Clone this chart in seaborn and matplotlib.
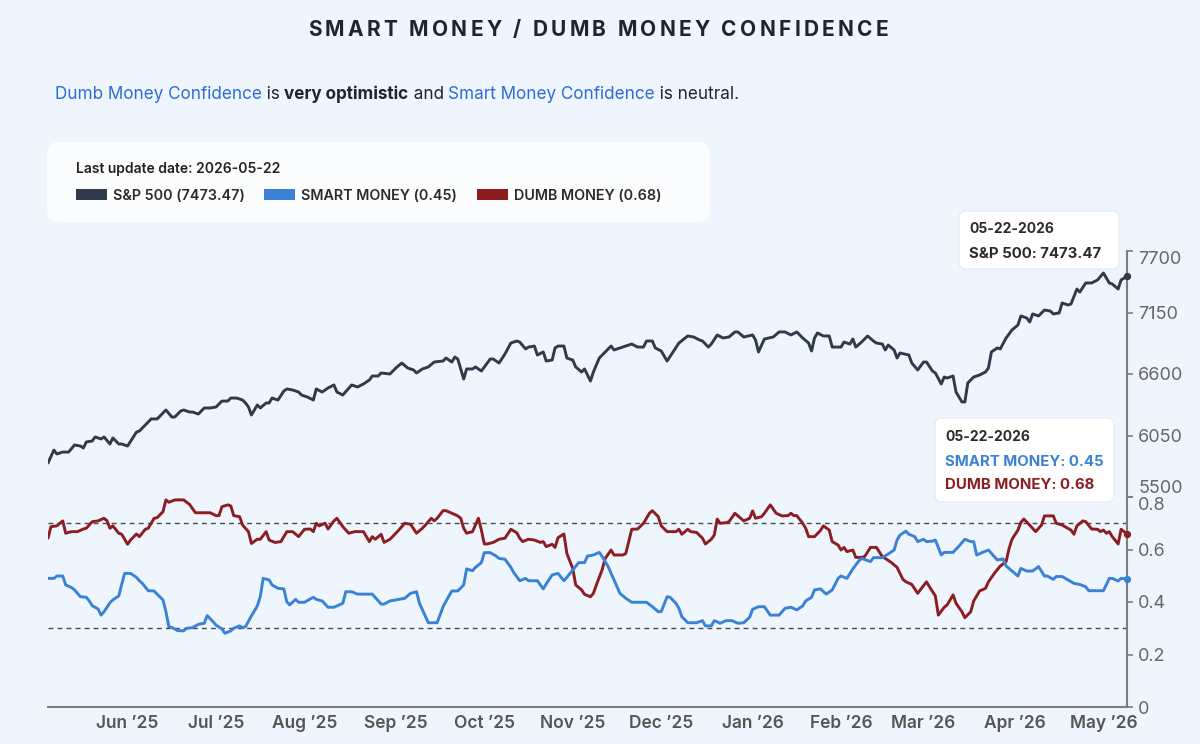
import matplotlib
matplotlib.use("Agg")
import matplotlib.pyplot as plt
from matplotlib.patches import FancyBboxPatch, Rectangle
from matplotlib.transforms import IdentityTransform
import pandas as pd
import seaborn as sns

# ---- data ----
START = pd.Timestamp("2025-05-21")
END_DAY = 366

spx_day = [0, 2, 3, 5, 7, 9, 11, 12, 13, 15, 16, 18, 19, 21, 22, 24, 25, 27, 30, 31,
           33, 35, 37, 38, 40, 42, 43, 45, 46, 48, 49, 51, 53, 55, 57, 59, 61, 62, 64, 66,
           67, 68, 69, 71, 72, 74, 75, 76, 78, 80, 81, 83, 85, 86, 88, 90, 91, 93, 95, 97,
           98, 100, 103, 105, 107, 109, 110, 112, 113, 116, 118,
           120, 122, 124, 125, 127, 129, 131, 134, 135, 137, 138, 139, 141, 142, 144, 145,
           147, 148, 150, 151, 153, 155, 157, 159, 160, 162, 163, 165, 166, 168, 169, 171,
           172, 173, 175, 176, 178, 179, 181, 182, 184, 185, 187, 189, 191, 192, 194, 196,
           198, 200, 202, 203, 205, 206, 208, 210, 212, 214, 217, 219, 221, 222, 224, 225,
           227, 229, 231, 233, 234, 236, 239, 240, 241,
           243, 246, 248, 250, 252, 254, 256, 258, 259, 260, 261, 263, 265, 266, 269, 270,
           272, 273, 274, 276, 278, 280, 281, 283, 284, 285, 287, 288, 289, 292, 293, 295,
           297, 298, 300, 301, 303, 304, 305, 307, 308, 310, 311, 312, 314, 316, 318, 319,
           320, 322, 323, 325, 327, 329, 330, 332, 333, 334, 336, 338, 340, 341, 343, 344,
           346, 347, 349, 350, 352, 354, 356, 358, 360, 361, 363, 364, 366]
spx_val = [5804, 5920, 5885, 5902, 5902, 5965, 5956, 5938, 5992, 6001, 6037, 6019, 6037, 5974,
           6028, 5974, 5974, 5956, 6081, 6090, 6144, 6198, 6198, 6224, 6278, 6215, 6215, 6269,
           6278, 6260, 6260, 6242, 6296, 6296, 6305, 6358, 6358, 6385, 6385, 6367, 6341, 6305,
           6233, 6323, 6296, 6341, 6341, 6385, 6367, 6448, 6466, 6457, 6439, 6412, 6394, 6367,
           6466, 6439, 6475, 6502, 6439, 6412, 6502, 6484, 6511, 6546, 6582, 6582, 6609, 6600,
           6654,
           6698, 6654, 6636, 6609, 6645, 6663, 6707, 6716, 6743, 6707, 6752, 6734, 6555, 6645,
           6645, 6663, 6627, 6663, 6734, 6734, 6698, 6779, 6877, 6895, 6886, 6824, 6841, 6850,
           6770, 6797, 6716, 6725, 6833, 6850, 6850, 6743, 6725, 6663, 6618, 6645, 6537, 6618,
           6743, 6797, 6850, 6815, 6833, 6850, 6868, 6841, 6841, 6895, 6895, 6833, 6806, 6716,
           6797, 6877, 6940, 6931, 6904, 6895, 6841, 6868, 6949, 6922, 6931, 6976, 6976, 6931,
           6949, 6904, 6797,
           6913, 6931, 6976, 6976, 6949, 6976, 6922, 6877, 6806, 6922, 6967, 6940, 6940, 6841,
           6841, 6886, 6868, 6913, 6841, 6886, 6940, 6895, 6877, 6868, 6815, 6859, 6815, 6743,
           6788, 6770, 6698, 6636, 6707, 6707, 6627, 6609, 6511, 6573, 6564, 6582, 6439, 6350,
           6350, 6520, 6573, 6591, 6618, 6654, 6797, 6833, 6824, 6922, 6994, 7038, 7119, 7101,
           7065, 7137, 7119, 7172, 7163, 7137, 7146, 7235, 7217, 7226, 7360, 7333, 7414, 7414,
           7441, 7503, 7414, 7405, 7360, 7441, 7473]

smart_day = [0, 2, 3, 5, 6, 8, 9, 11, 13, 14, 15, 17, 18, 19, 21, 22, 24, 25, 26, 28,
             30, 31, 32, 34, 36, 37, 39, 40, 41, 42, 44, 46, 47, 49, 51, 53, 54, 56, 57, 59,
             60, 62, 63, 65, 66, 67, 69, 71, 72, 73, 75, 76, 78, 80, 81, 82, 84, 85, 87, 90,
             91, 93, 95, 97, 100, 101, 103, 105, 110, 113, 114, 116, 119,
             121, 123, 125, 126, 127, 129, 131, 132, 134, 136, 137, 139, 141, 142, 144, 145,
             147, 148, 150, 152, 153, 155, 157, 158, 160, 162, 163, 166, 168, 169, 171, 173,
             175, 176, 178, 180, 182, 183, 185, 187, 188, 190, 192, 194, 196, 198, 203, 205,
             207, 208, 210, 211, 213, 214, 215, 217, 220, 222, 223, 225, 226, 228, 230, 232,
             234, 236, 238, 239, 241,
             243, 245, 248, 250, 252, 254, 256, 257, 259, 260, 262, 264, 266, 268, 269, 271,
             273, 275, 276, 279, 280, 283, 285, 287, 288, 289, 291, 292, 294, 295, 297, 298,
             300, 301, 303, 304, 307, 309, 311, 313, 314, 315, 317, 319, 321, 322, 324, 325,
             327, 329, 330, 332, 334, 336, 338, 339, 341, 342, 344, 346, 348, 350, 352, 353,
             358, 360, 361, 363, 364, 366]
smart_val = [0.490, 0.490, 0.499, 0.499, 0.465, 0.455, 0.446, 0.420, 0.418, 0.404,
             0.386, 0.373, 0.350, 0.363, 0.397, 0.408, 0.423, 0.467, 0.509, 0.509,
             0.494, 0.481, 0.471, 0.443, 0.442, 0.430, 0.408, 0.363, 0.306, 0.303,
             0.291, 0.290, 0.300, 0.302, 0.315, 0.319, 0.348, 0.325, 0.312, 0.297,
             0.281, 0.290, 0.300, 0.309, 0.302, 0.306, 0.347, 0.385, 0.420, 0.490,
             0.484, 0.465, 0.452, 0.450, 0.401, 0.389, 0.410, 0.399, 0.399, 0.418,
             0.410, 0.404, 0.380, 0.380, 0.395, 0.439, 0.439, 0.430, 0.430, 0.392,
             0.392, 0.404, 0.410,
             0.414, 0.433, 0.439, 0.395, 0.370, 0.321, 0.321, 0.321, 0.382, 0.423,
             0.442, 0.442, 0.465, 0.526, 0.519, 0.532, 0.550, 0.588, 0.588, 0.575,
             0.566, 0.563, 0.532, 0.512, 0.481, 0.490, 0.481, 0.481, 0.450, 0.469,
             0.503, 0.509, 0.481, 0.494, 0.522, 0.550, 0.550, 0.575, 0.579, 0.589,
             0.573, 0.535, 0.484, 0.433, 0.414, 0.399, 0.399, 0.382, 0.363, 0.363,
             0.420, 0.418, 0.395, 0.376, 0.344, 0.321, 0.321, 0.329, 0.309, 0.309,
             0.329, 0.319, 0.329, 0.329, 0.319, 0.321, 0.342, 0.372, 0.382,
             0.382, 0.350, 0.350, 0.376, 0.380, 0.370, 0.385, 0.404, 0.418, 0.446,
             0.450, 0.430, 0.446, 0.490, 0.499, 0.490, 0.526, 0.556, 0.566, 0.554,
             0.569, 0.569, 0.583, 0.598, 0.636, 0.655, 0.670, 0.658, 0.649, 0.630,
             0.639, 0.630, 0.632, 0.636, 0.579, 0.589, 0.589, 0.613, 0.639, 0.630,
             0.630, 0.579, 0.589, 0.598, 0.573, 0.560, 0.564, 0.537, 0.518, 0.499,
             0.528, 0.518, 0.518, 0.535, 0.499, 0.499, 0.486, 0.497, 0.497, 0.484,
             0.471, 0.467, 0.458, 0.443, 0.443, 0.490, 0.490, 0.480, 0.490, 0.488]

dumb_day = [0, 1, 3, 5, 6, 8, 10, 12, 13, 15, 17, 19, 20, 21, 22, 24, 25, 27, 28, 30,
            31, 33, 34, 36, 37, 39, 40, 41, 43, 46, 48, 50, 53, 55, 57, 58, 59, 61, 62, 63,
            65, 66, 68, 69, 71, 72, 74, 75, 77, 79, 81, 83, 85, 87, 89, 90, 91, 92, 94, 95,
            97, 98, 100, 102, 104, 107, 109, 110, 111, 113, 114, 116, 119,
            121, 123, 125, 127, 128, 130, 131, 132, 134, 135, 137, 139, 140, 141, 142, 144,
            146, 147, 148, 149, 151, 153, 155, 157, 159, 160, 161, 163, 165, 167, 168, 169,
            171, 172, 173, 175, 176, 178, 179, 181, 182, 184, 185, 186, 188, 189, 191, 192,
            195, 196, 198, 200, 202, 204, 205, 207, 208, 210, 213, 214, 215, 217, 218, 220,
            222, 223, 225, 226, 227, 228, 230, 231, 233, 235, 236, 238, 239, 240,
            242, 243, 245, 247, 249, 251, 252, 253, 254, 256, 257, 258, 260, 262, 263, 265,
            266, 268, 269, 270, 271, 273, 274, 276, 277, 279, 281, 283, 284, 286, 288, 290,
            291, 293, 295, 296, 298, 299, 301, 302, 304, 305, 307, 308, 310, 311, 313, 314,
            316, 318, 319, 321, 323, 325, 326, 327, 329, 330, 331, 333, 335, 337, 338, 341,
            342, 344, 347, 348, 349, 351, 352, 354, 356, 357, 358, 359, 360, 361, 363, 364,
            365, 366]
dumb_val = [0.643, 0.687, 0.690, 0.709, 0.662, 0.668, 0.668, 0.678, 0.681, 0.706,
            0.709, 0.719, 0.710, 0.681, 0.690, 0.662, 0.658, 0.620, 0.636, 0.659,
            0.649, 0.677, 0.681, 0.719, 0.721, 0.744, 0.789, 0.780, 0.789, 0.789,
            0.772, 0.740, 0.740, 0.740, 0.729, 0.729, 0.763, 0.770, 0.766, 0.729,
            0.725, 0.693, 0.668, 0.623, 0.639, 0.639, 0.668, 0.636, 0.627, 0.630,
            0.668, 0.668, 0.649, 0.677, 0.678, 0.668, 0.700, 0.690, 0.700, 0.678,
            0.709, 0.719, 0.687, 0.662, 0.668, 0.668, 0.630, 0.649, 0.639, 0.658,
            0.627, 0.639, 0.674,
            0.700, 0.696, 0.662, 0.681, 0.693, 0.719, 0.709, 0.719, 0.748, 0.748,
            0.738, 0.728, 0.719, 0.681, 0.662, 0.668, 0.719, 0.674, 0.621, 0.621,
            0.627, 0.639, 0.643, 0.677, 0.664, 0.643, 0.630, 0.639, 0.636, 0.627,
            0.630, 0.611, 0.620, 0.608, 0.645, 0.659, 0.585, 0.528, 0.465, 0.446,
            0.429, 0.420, 0.433, 0.465, 0.524, 0.566, 0.598, 0.579, 0.579, 0.585,
            0.677, 0.678, 0.700, 0.738, 0.748, 0.725, 0.690, 0.668, 0.668, 0.677,
            0.658, 0.677, 0.668, 0.665, 0.643, 0.621, 0.639, 0.655, 0.716, 0.700,
            0.702, 0.706, 0.738, 0.719, 0.709, 0.719, 0.747, 0.719,
            0.725, 0.738, 0.770, 0.738, 0.728, 0.729, 0.738, 0.729, 0.729, 0.700,
            0.681, 0.649, 0.649, 0.672, 0.690, 0.674, 0.630, 0.617, 0.598, 0.608,
            0.592, 0.598, 0.570, 0.570, 0.573, 0.608, 0.608, 0.573, 0.566, 0.551,
            0.532, 0.486, 0.477, 0.467, 0.433, 0.448, 0.477, 0.458, 0.423, 0.350,
            0.380, 0.389, 0.427, 0.395, 0.363, 0.340, 0.363, 0.404, 0.442, 0.452,
            0.477, 0.509, 0.537, 0.554, 0.604, 0.639, 0.674, 0.703, 0.716, 0.693,
            0.668, 0.693, 0.728, 0.728, 0.700, 0.693, 0.674, 0.658, 0.690, 0.709,
            0.706, 0.678, 0.677, 0.668, 0.674, 0.662, 0.668, 0.649, 0.621, 0.677,
            0.668, 0.658]

month_ticks = ["2025-06-17", "2025-07-17", "2025-08-16", "2025-09-16", "2025-10-16",
               "2025-11-15", "2025-12-15", "2026-01-15", "2026-02-14", "2026-03-14",
               "2026-04-14", "2026-05-14"]
month_labels = ["Jun ’25", "Jul ’25", "Aug ’25", "Sep ’25", "Oct ’25", "Nov ’25",
                "Dec ’25", "Jan ’26", "Feb ’26", "Mar ’26", "Apr ’26", "May ’26"]
spx_ticks = [5500, 6050, 6600, 7150, 7700]
conf_ticks = [0, 0.2, 0.4, 0.6, 0.8]
conf_labels = ["0", "0.2", "0.4", "0.6", "0.8"]
bands = [0.3, 0.7]

last_update = "2026-05-22"
tip_date = "05-22-2026"
spx_last, smart_last, dumb_last = 7473.47, 0.45, 0.68

# ---- style ----
BG = "#eef5fd"
DARK = "#1e2532"
SPX_C = "#2f3a4b"
SMART_C = "#3a82d6"
DUMB_C = "#8c1d22"
LINK_C = "#2d6cd3"
AXIS_C = "#7d7d7d"

sns.set_theme(style="white")
plt.rcParams["font.family"] = ["Inter", "DejaVu Sans"]

W, H = 1200, 744
fig = plt.figure(figsize=(W / 100, H / 100), dpi=100, facecolor=BG)
ID = IdentityTransform()


def series(days, vals):
    assert len(days) == len(vals)
    return pd.DataFrame({"date": START + pd.to_timedelta(days, unit="D"), "value": vals})


L, R = 48, 1127
TOP0, MID, BOT = 251, 497, 707
ax_top = fig.add_axes([L / W, 1 - MID / H, (R - L) / W, (MID - TOP0) / H])
ax_bot = fig.add_axes([L / W, 1 - BOT / H, (R - L) / W, (BOT - MID) / H])

spx = series(spx_day, spx_val)
smart = series(smart_day, smart_val)
dumb = series(dumb_day, dumb_val)

sns.lineplot(data=spx, x="date", y="value", ax=ax_top, color=SPX_C, linewidth=2.1)
sns.lineplot(data=dumb, x="date", y="value", ax=ax_bot, color=DUMB_C, linewidth=2.1)
sns.lineplot(data=smart, x="date", y="value", ax=ax_bot, color=SMART_C, linewidth=2.1)
ax_top.scatter(spx["date"].iloc[-1], spx["value"].iloc[-1], s=18, color=SPX_C, zorder=5, clip_on=False)
ax_bot.scatter(smart["date"].iloc[-1], smart["value"].iloc[-1], s=18, color=SMART_C, zorder=5, clip_on=False)
ax_bot.scatter(dumb["date"].iloc[-1], dumb["value"].iloc[-1], s=18, color=DUMB_C, zorder=5, clip_on=False)

for b in bands:
    ax_bot.axhline(b, color="#4a4a4a", linewidth=1.0, linestyle=(0, (3.5, 3)), zorder=1)

xmin, xmax = START, START + pd.Timedelta(days=END_DAY)
for ax in (ax_top, ax_bot):
    ax.set_xlim(xmin, xmax)
    ax.set_facecolor("none")
    ax.set_xlabel("")
    ax.set_ylabel("")
    ax.yaxis.tick_right()
    ax.tick_params(axis="y", length=4, width=1.2, color=AXIS_C, pad=4,
                   labelsize=13, labelcolor="#666666")
    for s in ("top", "left"):
        ax.spines[s].set_visible(False)
    ax.spines["right"].set_color(AXIS_C)
    ax.spines["right"].set_linewidth(1.5)

ax_top.set_ylim(spx_ticks[0], spx_ticks[-1])
ax_top.set_yticks(spx_ticks)
ax_top.set_yticklabels([str(t) for t in spx_ticks])
ax_top.spines["bottom"].set_visible(False)
ax_top.set_xticks([])
ylabs = ax_top.get_yticklabels()
ylabs[0].set_va("bottom")
ylabs[-1].set_va("top")

ax_bot.set_ylim(0, 0.8)
ax_bot.set_yticks(conf_ticks)
ax_bot.set_yticklabels(conf_labels)
ax_bot.get_yticklabels()[-1].set_va("top")
ax_bot.spines["bottom"].set_color(AXIS_C)
ax_bot.spines["bottom"].set_linewidth(1.5)
ax_bot.set_xticks(pd.to_datetime(month_ticks))
ax_bot.set_xticklabels(month_labels)
ax_bot.tick_params(axis="x", length=0, pad=6, labelsize=12.5, labelcolor="#555555")
for lab in ax_bot.get_xticklabels():
    lab.set_fontweight("semibold")

renderer = fig.canvas.get_renderer()


def text_w(s, size, weight="normal"):
    t = fig.text(0, 0, "|" + s + "|", fontsize=size, fontweight=weight, transform=ID)
    t2 = fig.text(0, 0, "||", fontsize=size, fontweight=weight, transform=ID)
    w = t.get_window_extent(renderer).width - t2.get_window_extent(renderer).width
    t.remove()
    t2.remove()
    return w


def put(x, y, s, size, color=DARK, weight="normal", **kw):
    return fig.text(x, H - y, s, fontsize=size, color=color, fontweight=weight,
                    transform=ID, ha="left", va="baseline", **kw)


# title with letter spacing
title = "SMART MONEY / DUMB MONEY CONFIDENCE"
tsize, tspace = 15, 3.3
widths = [text_w(c, tsize, "bold") for c in title]
x = 598 - (sum(widths) + tspace * (len(title) - 1)) / 2
for c, w in zip(title, widths):
    put(x, 35.5, c, tsize, DARK, "bold")
    x += w + tspace

# subtitle
pieces = [("Dumb Money Confidence", LINK_C, "normal"), (" is ", DARK, "normal"),
          ("very optimistic", DARK, "bold"), (" and ", DARK, "normal"),
          ("Smart Money Confidence", LINK_C, "normal"), (" is neutral.", DARK, "normal")]
x = 55
for s, c, wgt in pieces:
    put(x, 99, s, 12.3, c, wgt)
    x += text_w(s, 12.3, wgt)


def rbox(x0, y0, x1, y1, r, fc="white", alpha=1.0, ec="none"):
    p = FancyBboxPatch((x0 + r, H - y1 + r), (x1 - x0) - 2 * r, (y1 - y0) - 2 * r,
                       boxstyle=f"round,pad={r}", transform=ID, fc=fc, ec=ec,
                       alpha=alpha, lw=0.8, zorder=3)
    fig.patches.append(p)


# legend card
rbox(47, 142, 710, 222, 12, fc="white", alpha=0.72)
put(76, 173, f"Last update date: {last_update}", 10, "#222222", "semibold")
legend_items = [(76, SPX_C, f"S&P 500 ({spx_last:.2f})"),
                (264, SMART_C, f"SMART MONEY ({smart_last:.2f})"),
                (477, DUMB_C, f"DUMB MONEY ({dumb_last:.2f})")]
for lx, col, lab in legend_items:
    fig.patches.append(Rectangle((lx, H - 200), 31, 11, transform=ID, fc=col, ec="none", zorder=4))
    put(lx + 37, 199.5, lab, 10.3, "#2a2a2a", "semibold")

# tooltips
rbox(959, 211, 1119, 269, 7, fc="white", ec="#e4e9f0")
put(969, 233, tip_date, 10, "#2b2b2b", "bold")
put(969, 258, f"S&P 500: {spx_last:.2f}", 10.8, "#2b2b2b", "bold")

rbox(935, 418, 1114, 502, 7, fc="white", ec="#e4e9f0")
put(945, 441, tip_date, 10, "#2b2b2b", "bold")
put(945, 466, f"SMART MONEY: {smart_last:.2f}", 10.8, SMART_C, "bold")
put(945, 489, f"DUMB MONEY: {dumb_last:.2f}", 10.8, DUMB_C, "bold")

fig.savefig("out.png", dpi=100, facecolor=BG)
